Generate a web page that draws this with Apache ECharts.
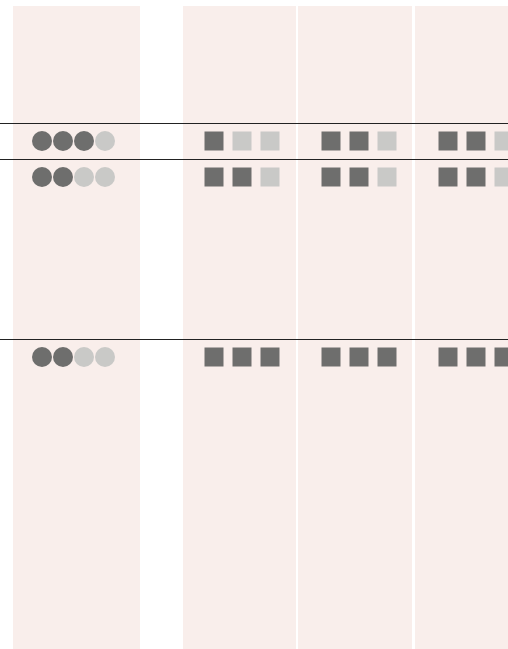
<!DOCTYPE html>
<html>
<head>
<meta charset="utf-8">
<script src="https://cdn.jsdelivr.net/npm/echarts@6/dist/echarts.min.js"></script>
<style>
  html, body { margin: 0; padding: 0; background: #fff; }
  #chart { width: 508px; height: 649px; }
</style>
</head>
<body>
<div id="chart"></div>
<script>
// rows of the table (labels are not shown in this crop)
var rows = ['Row 1', 'Row 2', 'Row 3']
// dot rating, out of 4
var circleScore = [3, 2, 2]
// square ratings, out of 3, one array per column
var squareColA = [1, 2, 3]
var squareColB = [2, 2, 3]
var squareColC = [2, 2, 3]

// layout (pixel space of the grid)
var ROW_Y = [141, 177, 357]
var DIVIDER_Y = [123, 159, 339]
var BANDS = [[13, 140], [183, 296], [298, 412], [415, 508]]
var BAND_TOP = 6
var BAND_BOTTOM = 649
var CIRCLE_X0 = 42
var CIRCLE_STEP = 21
var CIRCLE_R = 10
var CIRCLE_MAX = 4
var SQUARE_X0 = [214, 331, 448]
var SQUARE_STEP = 28
var SQUARE_SIZE = 19
var SQUARE_MAX = 3

var DARK = '#6e6e6d'
var LIGHT = '#c9c9c7'
var BAND = '#f9eeeb'

var chart = echarts.init(document.getElementById('chart'))

var squareData = []
;[squareColA, squareColB, squareColC].forEach(function (col, c) {
  col.forEach(function (v, r) {
    squareData.push([c, r, v])
  })
})

chart.setOption({
  animation: false,
  backgroundColor: '#fff',
  grid: { left: 0, right: 0, top: 0, bottom: 0 },
  xAxis: { type: 'value', min: 0, max: 508, show: false },
  yAxis: { type: 'value', min: 0, max: 649, inverse: true, show: false },
  series: [
    {
      type: 'custom',
      silent: true,
      data: BANDS.map(function (b, i) { return [i] }),
      renderItem: function (params, api) {
        var b = BANDS[api.value(0)]
        var p0 = api.coord([b[0], BAND_TOP])
        var p1 = api.coord([b[1], BAND_BOTTOM])
        return {
          type: 'rect',
          shape: { x: p0[0], y: p0[1], width: p1[0] - p0[0], height: p1[1] - p0[1] },
          style: { fill: BAND },
        }
      },
      markLine: {
        silent: true,
        symbol: 'none',
        label: { show: false },
        lineStyle: { color: '#222', width: 1, type: 'solid' },
        data: DIVIDER_Y.map(function (y) { return { yAxis: y } }),
      },
    },
    {
      type: 'custom',
      silent: true,
      data: rows.map(function (r, i) { return [i, circleScore[i]] }),
      renderItem: function (params, api) {
        var r = api.value(0)
        var score = api.value(1)
        var children = []
        for (var k = 0; k < CIRCLE_MAX; k++) {
          var p = api.coord([CIRCLE_X0 + k * CIRCLE_STEP, ROW_Y[r]])
          children.push({
            type: 'circle',
            shape: { cx: p[0], cy: p[1], r: CIRCLE_R },
            style: { fill: k < score ? DARK : LIGHT },
          })
        }
        return { type: 'group', children: children }
      },
    },
    {
      type: 'custom',
      silent: true,
      data: squareData,
      renderItem: function (params, api) {
        var c = api.value(0)
        var r = api.value(1)
        var score = api.value(2)
        var children = []
        for (var k = 0; k < SQUARE_MAX; k++) {
          var p = api.coord([SQUARE_X0[c] + k * SQUARE_STEP, ROW_Y[r]])
          children.push({
            type: 'rect',
            shape: { x: p[0] - SQUARE_SIZE / 2, y: p[1] - SQUARE_SIZE / 2, width: SQUARE_SIZE, height: SQUARE_SIZE },
            style: { fill: k < score ? DARK : LIGHT },
          })
        }
        return { type: 'group', children: children }
      },
    },
  ],
})
</script>
</body>
</html>
